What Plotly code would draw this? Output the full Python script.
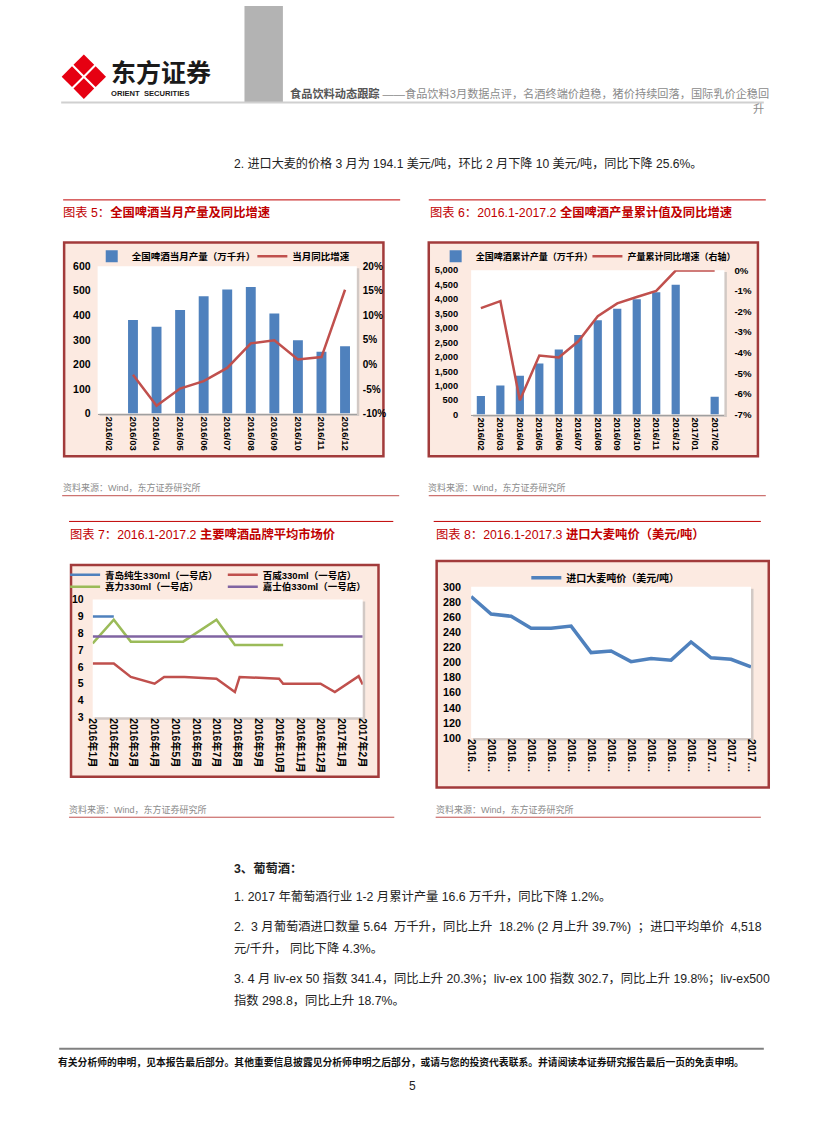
import plotly.graph_objects as go

W, H = 827, 1122


def fx(x):
    return x / W


def fy(y):
    return 1 - y / H


# ---------------- data ----------------
# Chart 5: monthly beer output (万千升) and YoY (%)
c5_months = ["2016/02", "2016/03", "2016/04", "2016/05", "2016/06", "2016/07",
             "2016/08", "2016/09", "2016/10", "2016/11", "2016/12"]
c5_output = [None, 381, 354, 422, 478, 505, 515, 407, 299, 252, 274]
c5_yoy = [None, -2.1, -8.4, -4.9, -3.4, -0.7, 4.3, 4.9, 1.0, 1.5, 15.2]
c5_right_ticks = [-10, -5, 0, 5, 10, 15, 20]
c5_right_labels = ["-10%", "-5%", "0%", "5%", "10%", "15%", "20%"]

# Chart 6: cumulative beer output (万千升) and cumulative YoY (%)
c6_months = ["2016/02", "2016/03", "2016/04", "2016/05", "2016/06", "2016/07",
             "2016/08", "2016/09", "2016/10", "2016/11", "2016/12", "2017/01", "2017/02"]
c6_cum = [639, 1005, 1347, 1770, 2249, 2751, 3265, 3664, 3995, 4235, 4498, None, 616]
c6_yoy = [-1.84, -1.5, -6.3, -4.14, -4.23, -3.45, -2.23, -1.61, -1.3, -1.01, -0.02, -0.02, -0.02]
c6_right_ticks = [-7, -6, -5, -4, -3, -2, -1, 0]
c6_right_labels = ["-7%", "-6%", "-5%", "-4%", "-3%", "-2%", "-1%", "0%"]

# Chart 7: brand prices (元)
c7_ticks = ["2016-01-01", "2016-02-01", "2016-03-01", "2016-04-01", "2016-05-01",
            "2016-06-01", "2016-07-01", "2016-08-01", "2016-09-01", "2016-10-01",
            "2016-11-01", "2016-12-01", "2017-01-01", "2017-02-01"]
c7_labels = ["2016年1月", "2016年2月", "2016年3月", "2016年4月", "2016年5月",
             "2016年6月", "2016年7月", "2016年8月", "2016年9月", "2016年10月",
             "2016年11月", "2016年12月", "2017年1月", "2017年2月"]
qd_dates = ["2016-01-01", "2016-02-01"]
qd_price = [9.0, 9.0]
bw_dates = ["2016-01-01", "2016-02-01", "2016-02-26", "2016-04-01", "2016-04-15",
            "2016-05-15", "2016-07-01", "2016-07-28", "2016-08-04", "2016-10-01",
            "2016-10-07", "2016-12-01", "2016-12-22", "2017-01-26", "2017-02-01"]
bw_price = [6.2, 6.2, 5.4, 5.0, 5.4, 5.4, 5.3, 4.5, 5.4, 5.3, 5.0, 5.0, 4.5, 5.45, 4.95]
xl_dates = ["2016-01-01", "2016-02-01", "2016-02-26", "2016-05-13", "2016-07-01",
            "2016-07-28", "2016-10-07"]
xl_price = [7.4, 8.8, 7.5, 7.5, 8.8, 7.3, 7.3]
jsb_dates = ["2016-01-01", "2017-02-01"]
jsb_price = [7.8, 7.8]

# Chart 8: imported barley price (美元/吨)
c8_months = ["2016-01", "2016-02", "2016-03", "2016-04", "2016-05", "2016-06",
             "2016-07", "2016-08", "2016-09", "2016-10", "2016-11", "2016-12",
             "2017-01", "2017-02", "2017-03"]
c8_price = [287, 264, 261, 245, 245, 248, 213, 215, 201, 205, 203, 227, 206, 204.1, 194.1]
c8_labels = ["2016…", "2016…", "2016…", "2016…", "2016…", "2016…", "2016…", "2016…",
             "2016…", "2016…", "2016…", "2016…", "2017…", "2017…", "2017…"]

# ---------------- styles ----------------
BLUE = "#4F81BD"
RED = "#C0504D"
GREEN = "#9BBB59"
PURPLE = "#8064A2"
FRAME_FILL = "#FCEAE1"
FRAME_LINE = "#A23B3B"
TITLE_RED = "#C00000"
FONT = "Liberation Sans, Arial, Noto Sans CJK SC, sans-serif"


def tfont(size=9.5):
    return dict(family=FONT, size=size, color="#000000", weight="bold")


fig = go.Figure()

# Chart 5
fig.add_trace(go.Bar(x=c5_months, y=c5_output, name="全国啤酒当月产量（万千升）",
                     marker=dict(color=BLUE, line=dict(width=0)),
                     xaxis="x", yaxis="y", legend="legend"))
fig.add_trace(go.Scatter(x=c5_months, y=c5_yoy, name="当月同比增速", mode="lines",
                         line=dict(color=RED, width=2.5),
                         xaxis="x", yaxis="y2", legend="legend2"))
# Chart 6
fig.add_trace(go.Bar(x=c6_months, y=c6_cum, name="全国啤酒累计产量（万千升）",
                     marker=dict(color=BLUE, line=dict(width=0)),
                     xaxis="x2", yaxis="y3", legend="legend3"))
fig.add_trace(go.Scatter(x=c6_months, y=c6_yoy, name="产量累计同比增速（右轴）", mode="lines",
                         line=dict(color=RED, width=2.5),
                         xaxis="x2", yaxis="y4", legend="legend4"))
# Chart 7
fig.add_trace(go.Scatter(x=qd_dates, y=qd_price, name="青岛纯生330ml（一号店）", mode="lines",
                         line=dict(color=BLUE, width=2.5), xaxis="x3", yaxis="y5", legend="legend5"))
fig.add_trace(go.Scatter(x=bw_dates, y=bw_price, name="百威330ml（一号店）", mode="lines",
                         line=dict(color=RED, width=2.5), xaxis="x3", yaxis="y5", legend="legend6"))
fig.add_trace(go.Scatter(x=xl_dates, y=xl_price, name="喜力330ml（一号店）", mode="lines",
                         line=dict(color=GREEN, width=2.5), xaxis="x3", yaxis="y5", legend="legend7"))
fig.add_trace(go.Scatter(x=jsb_dates, y=jsb_price, name="嘉士伯330ml（一号店）", mode="lines",
                         line=dict(color=PURPLE, width=2.5), xaxis="x3", yaxis="y5", legend="legend8"))
# Chart 8
fig.add_trace(go.Scatter(x=c8_months, y=c8_price, name="进口大麦吨价（美元/吨）", mode="lines",
                         line=dict(color=BLUE, width=3.5), xaxis="x4", yaxis="y6", legend="legend9"))


def leg(x, y, size=9.5):
    return dict(x=fx(x), y=fy(y), xanchor="left", yanchor="middle", orientation="h",
                bgcolor="rgba(0,0,0,0)", borderwidth=0, itemwidth=30,
                font=dict(family=FONT, size=size, color="#000000", weight="bold"))


common_x = dict(showgrid=False, zeroline=False, ticks="", tickangle=90)
common_y = dict(showgrid=False, zeroline=False, ticks="", showline=False)

# plot-area boxes in page pixels (x0, y0, x1, y1)
P5 = (94, 263, 357, 412)
P6 = (473, 267, 730, 413)
P7 = (89, 600, 363, 719)
P8 = (473, 587, 757, 740)

layout = dict(
    width=W, height=H, autosize=False,
    margin=dict(l=0, r=0, t=0, b=0),
    paper_bgcolor="white", plot_bgcolor="rgba(0,0,0,0)",
    bargap=0.58, showlegend=True,
    # chart 5
    xaxis=dict(domain=[fx(P5[0]), fx(P5[2])], anchor="y", type="category",
               categoryorder="array", categoryarray=c5_months,
               showline=True, linecolor="#A0A0A0", linewidth=1,
               tickfont=tfont(9.5), **common_x),
    yaxis=dict(domain=[fy(P5[3]), fy(P5[1])], anchor="x", range=[0, 600], dtick=100,
               ticklabelstandoff=6, tickfont=tfont(10.5), **common_y),
    yaxis2=dict(overlaying="y", side="right", anchor="x", range=[-10, 20],
                tickvals=c5_right_ticks, ticktext=c5_right_labels,
                ticklabelstandoff=5, tickfont=tfont(10), **common_y),
    # chart 6
    xaxis2=dict(domain=[fx(P6[0]), fx(P6[2])], anchor="y3", type="category",
                categoryorder="array", categoryarray=c6_months,
                showline=True, linecolor="#A0A0A0", linewidth=1,
                tickfont=tfont(9.2), **common_x),
    yaxis3=dict(domain=[fy(P6[3]), fy(P6[1])], anchor="x2", range=[0, 5000], dtick=500,
                tickformat=",", ticklabelstandoff=12, tickfont=tfont(9.3), **common_y),
    yaxis4=dict(overlaying="y3", side="right", anchor="x2", range=[-7, 0],
                tickvals=c6_right_ticks, ticktext=c6_right_labels,
                ticklabelstandoff=9, tickfont=tfont(9.6), **common_y),
    # chart 7
    xaxis3=dict(domain=[fx(P7[0]), fx(P7[2])], anchor="y5", type="date",
                range=["2016-01-01", "2017-02-01"], tickvals=c7_ticks, ticktext=c7_labels,
                showline=False, tickfont=tfont(10.3), **common_x),
    yaxis5=dict(domain=[fy(P7[3]), fy(P7[1])], anchor="x3", range=[3, 10], dtick=1,
                ticklabelstandoff=8, tickfont=tfont(10.5), **common_y),
    # chart 8
    xaxis4=dict(domain=[fx(P8[0]), fx(P8[2])], anchor="y6", type="category",
                categoryorder="array", categoryarray=c8_months,
                tickvals=c8_months, ticktext=c8_labels,
                showline=False, tickfont=tfont(10.3), **common_x),
    yaxis6=dict(domain=[fy(P8[3]), fy(P8[1])], anchor="x4", range=[100, 300], dtick=20,
                ticklabelstandoff=9, tickfont=tfont(10.8), **common_y),
    legend=leg(88, 253),
    legend2=leg(251, 253),
    legend3=leg(437, 253, 9),
    legend4=leg(591, 253, 9),
    legend5=leg(61, 575),
    legend6=leg(221, 575),
    legend7=leg(61, 587),
    legend8=leg(221, 587),
    legend9=leg(529, 578, 10),
)
fig.update_layout(**layout)

shapes = []


def rect(x0, y0, x1, y1, fill, line, lw, layer="below"):
    shapes.append(dict(type="rect", xref="paper", yref="paper",
                       x0=fx(x0), x1=fx(x1), y0=fy(y1), y1=fy(y0),
                       fillcolor=fill, line=dict(color=line, width=lw), layer=layer))


def hline(x0, x1, y, color, lw):
    shapes.append(dict(type="line", xref="paper", yref="paper",
                       x0=fx(x0), x1=fx(x1), y0=fy(y), y1=fy(y),
                       line=dict(color=color, width=lw), layer="above"))


# header decoration
rect(243, 0, 282, 98, "#B3B3B3", "#B3B3B3", 0)
hline(57, 770, 97.5, "#D0D0D0", 2)

# logo: four red diamonds forming a white X
cx, cy, off, r = 80, 71.5, 12, 10.5
for dx, dy in [(0, -off), (off, 0), (0, off), (-off, 0)]:
    px_, py_ = cx + dx, cy + dy
    pts = [(px_, py_ - r), (px_ + r, py_), (px_, py_ + r), (px_ - r, py_)]
    path = "M " + " L ".join(f"{fx(a):.5f},{fy(b):.5f}" for a, b in pts) + " Z"
    shapes.append(dict(type="path", xref="paper", yref="paper", path=path,
                       fillcolor="#E60012", line=dict(width=0), layer="above"))

# chart frames
rect(60, 239, 384, 455, FRAME_FILL, FRAME_LINE, 2.5)
rect(430, 239, 764, 455, FRAME_FILL, FRAME_LINE, 2.5)
rect(67, 565, 379, 779, FRAME_FILL, FRAME_LINE, 2.5)
rect(438, 561, 775, 790, FRAME_FILL, FRAME_LINE, 2.5)
# soft shadows + white plot areas
SHADOW = "#D2C9C5"
for (a, b, c, d) in (P5, P6, P7, P8):
    rect(a + 2, b + 2, c + 2.5, d + 2.5, SHADOW, SHADOW, 0)
    rect(a, b, c, d, "white", "white", 0)

# title / source rules
hline(59, 401, 196, "#C00000", 1)
hline(430, 772, 196, "#C00000", 1)
hline(58, 400, 495, "#C0504D", 1)
hline(430, 772, 495, "#C0504D", 1)
hline(65, 394, 521, "#C00000", 1)
hline(435, 767, 521, "#C00000", 1)
hline(65, 395, 820, "#C0504D", 1)
hline(437, 767, 820, "#C0504D", 1)
# footer rule
hline(55, 770, 1054, "#808080", 2)

fig.update_layout(shapes=shapes)

ann = []


def text(x, y, s, size, color="#222222", anchor="left", weight="normal"):
    ann.append(dict(x=fx(x), y=fy(y), xref="paper", yref="paper", text=s, showarrow=False,
                    xanchor=anchor, yanchor="middle",
                    font=dict(family=FONT, size=size, color=color, weight=weight)))


NB = "\u00a0"
text(106, 68, "<b>东方证券</b>", 25, "#1A1A1A")
text(106, 88, "<b>ORIENT  SECURITIES</b>", 7.6, "#1A1A1A")
text(287, 88, "<span style='color:#555555'><b>食品饮料动态跟踪</b></span> ——食品饮料3月数据点评，"
     "名酒终端价趋稳，猪价持续回落，国际乳价企稳回", 11.2, "#8A8A8A")
text(772, 104, "升", 11.2, "#8A8A8A", anchor="right")

text(230, 159, "2. 进口大麦的价格 3 月为 194.1 美元/吨，环比 2 月下降 10 美元/吨，同比下降 25.6%。", 12.1)

text(57, 209, "图表 5：<b>全国啤酒当月产量及同比增速</b>", 12.3, TITLE_RED)
text(429, 209, "图表 6：2016.1-2017.2 <b>全国啤酒产量累计值及同比增速</b>", 12.3, TITLE_RED)
text(64, 534, "图表 7：2016.1-2017.2 <b>主要啤酒品牌平均市场价</b>", 12.3, TITLE_RED)
text(435, 534, "图表 8：2016.1-2017.3 <b>进口大麦吨价（美元/吨）</b>", 12.3, TITLE_RED)

text(57, 487, "资料来源：Wind，东方证券研究所", 9, "#8C8C8C")
text(427, 487, "资料来源：Wind，东方证券研究所", 9, "#8C8C8C")
text(63, 812, "资料来源：Wind，东方证券研究所", 9, "#8C8C8C")
text(435, 812, "资料来源：Wind，东方证券研究所", 9, "#8C8C8C")

text(230, 872, "<b>3、葡萄酒：</b>", 12.3)
text(230, 901, "1. 2017 年葡萄酒行业 1-2 月累计产量 16.6 万千升，同比下降 1.2%。", 12.3)
line2 = ("2." + NB + " 3 月葡萄酒进口数量 5.64" + NB + " 万千升，同比上升" + NB + " 18.2% (2 月上升 39.7%)"
         + NB + " ；进口平均单价" + NB + " 4,518")
text(230, 930, line2, 12.3)
text(230, 953, "元/千升， 同比下降 4.3%。", 12.3)
text(230, 983, "3. 4 月 liv-ex 50 指数 341.4，同比上升 20.3%；liv-ex 100 指数 302.7，同比上升 19.8%；liv-ex500", 12.3)
text(230, 1005, "指数 298.8，同比上升 18.7%。", 12.3)

text(52, 1067, "<b>有关分析师的申明，见本报告最后部分。其他重要信息披露见分析师申明之后部分，或请与您的投资代表联系。并请阅读本证券研究报告最后一页的免责申明。</b>", 9.8, "#111111")
text(413, 1092, "5", 12, "#222222", anchor="center")

fig.update_layout(annotations=ann)

fig.write_html("out.html", config={"displayModeBar": False},
               post_script="document.body.style.margin='0';")
